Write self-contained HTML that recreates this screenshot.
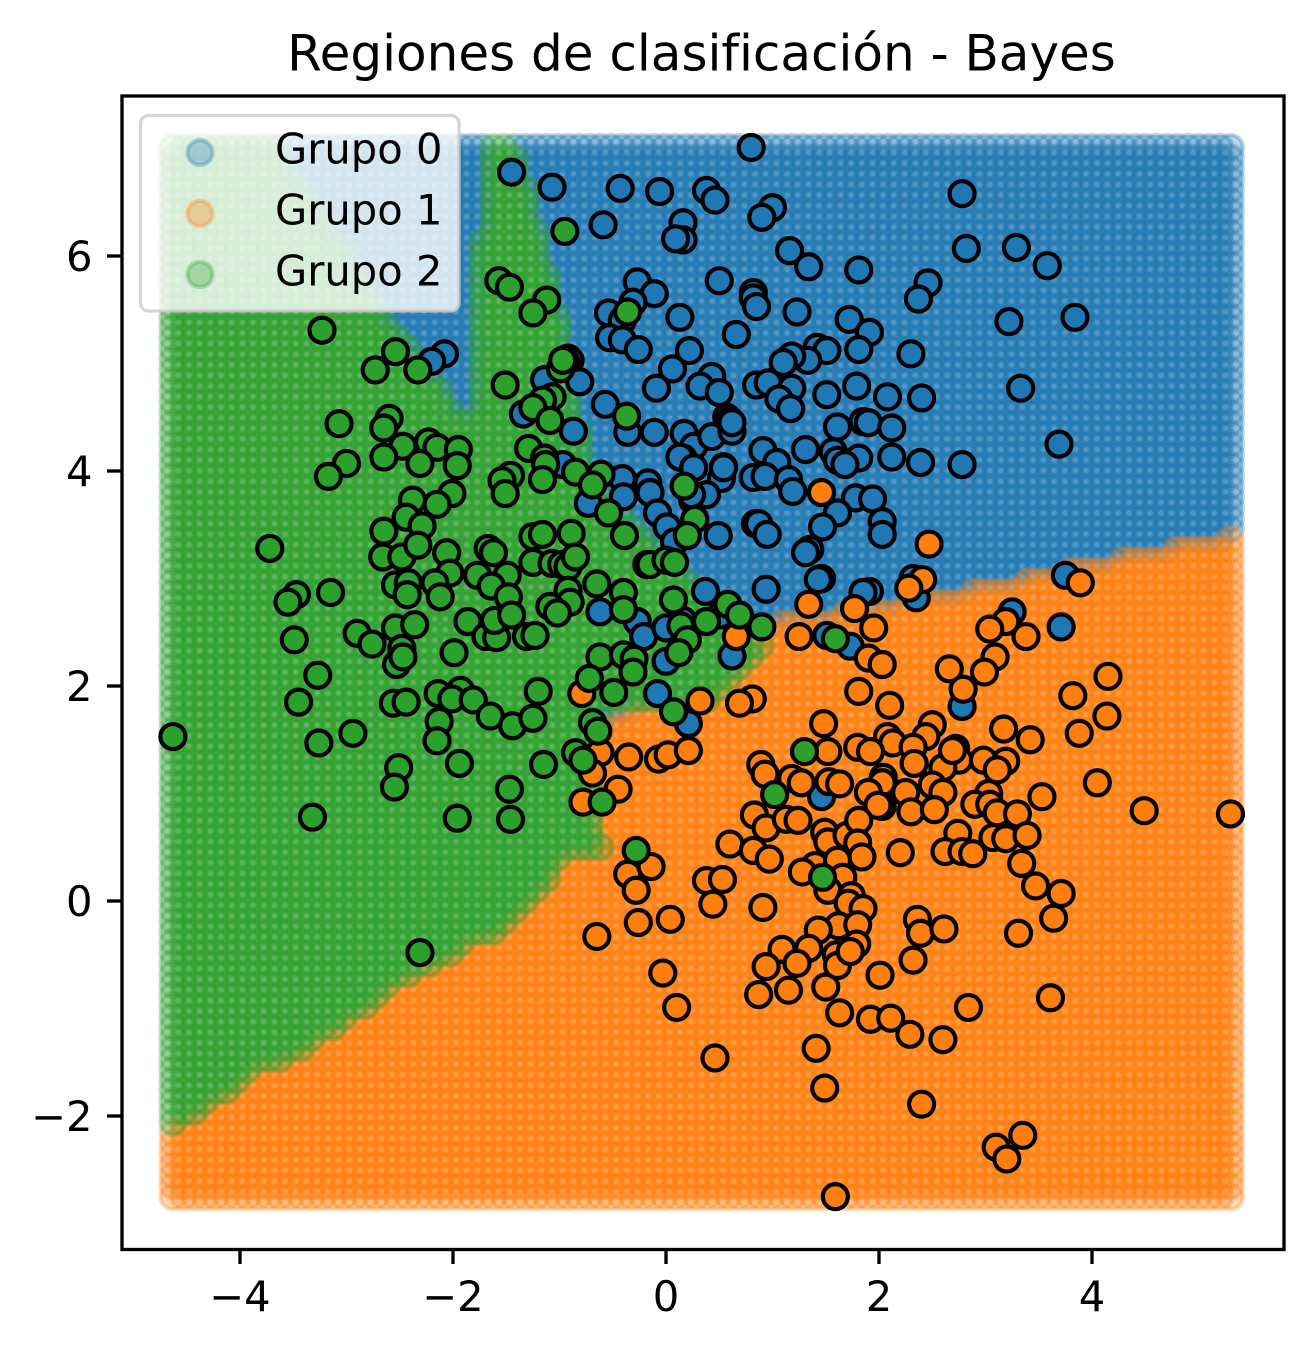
<!DOCTYPE html>
<html lang="es">
<head>
<meta charset="utf-8">
<title>Regiones de clasificación - Bayes</title>
<style>
html,body{margin:0;padding:0;background:#fff;width:1313px;height:1349px;overflow:hidden}
svg{display:block}
text{font-family:"DejaVu Sans","Liberation Sans",sans-serif;fill:#000}
</style>
</head>
<body>
<svg id="chart" xmlns="http://www.w3.org/2000/svg" width="1313" height="1349" viewBox="0 0 1313 1349">
  <rect x="0" y="0" width="1313" height="1349" fill="#fff"/>
  <g id="regions"></g>
  <g id="points"></g>
  <rect x="122" y="96" width="1162" height="1153.5" fill="none" stroke="#000" stroke-width="3.33"/>
  <g id="xaxis"></g>
  <g id="yaxis"></g>
  <text x="701.5" y="70.5" font-size="50" text-anchor="middle">Regiones de clasificación - Bayes</text>
  <g id="legend">
    <rect x="140.5" y="115.5" width="318.5" height="195.5" rx="8" ry="8" fill="#fff" fill-opacity="0.8" stroke="#ccc" stroke-opacity="0.8" stroke-width="3.33"/>
  </g>
</svg>
<script>
const xTicks = [-4, -2, 0, 2, 4];
const yTicks = [-2, 0, 2, 4, 6];
const groupNames = ['Grupo 0', 'Grupo 1', 'Grupo 2'];
const groupColors = ['#1f77b4', '#ff7f0e', '#2ca02c'];

const gridXRange = [-4.63, 5.30];
const gridYRange = [-2.75, 7.01];
const gridCount = 100;

const group2Boundary = [[-4.85,7.27],[-3.85,7.27],[-3.53,6.79],[-2.71,5.55],[-2.22,4.87],[-1.98,4.56],[-1.77,4.43],[-1.77,6.15],[-1.66,6.20],[-1.66,7.27],[-1.47,7.27],[-1.47,6.99],[-1.38,6.87],[-1.28,6.49],[-1.17,6.12],[-0.99,5.34],[-0.79,4.20],[-0.71,3.87],[0.16,3.05],[0.95,2.32],[0.67,2.15],[0.43,1.87],[-0.59,1.87],[-0.69,1.43],[-0.72,0.75],[-0.60,0.50],[-0.88,0.46],[-1.10,0.22],[-1.37,-0.08],[-1.58,-0.30],[-1.72,-0.30],[-2.10,-0.56],[-2.51,-0.74],[-2.80,-0.98],[-3.39,-1.37],[-3.86,-1.58],[-4.17,-1.80],[-4.39,-1.96],[-4.61,-2.08],[-4.85,-2.18]];
const group1Boundary = [[-4.85,-2.18],[0.32,2.33],[0.32,2.49],[1.07,2.49],[1.07,2.60],[1.63,2.60],[1.63,2.69],[2.24,2.69],[2.24,2.79],[2.83,2.79],[2.83,2.89],[3.34,2.89],[3.34,2.99],[3.74,2.99],[3.74,3.09],[4.27,3.09],[4.27,3.19],[4.74,3.19],[4.74,3.28],[5.25,3.28],[5.25,3.39],[5.48,3.39],[5.48,-2.97],[-4.85,-2.97]];

const group0Points = [[0.80,7.01],[-1.45,6.78],[-1.07,6.64],[-0.43,6.63],[-0.06,6.60],[0.38,6.61],[0.46,6.52],[1.00,6.45],[0.90,6.36],[-0.59,6.29],[0.16,6.31],[0.16,6.15],[0.09,6.16],[1.16,6.05],[1.34,5.90],[1.81,5.87],[-0.27,5.76],[-0.11,5.65],[0.50,5.77],[0.82,5.66],[0.82,5.61],[0.85,5.53],[1.23,5.48],[0.13,5.43],[-0.31,5.57],[-0.54,5.47],[-0.41,5.40],[-0.53,5.24],[-0.41,5.22],[-0.26,5.13],[1.72,5.41],[1.91,5.29],[1.81,5.13],[0.66,5.27],[0.22,5.12],[0.06,4.95],[1.42,5.15],[1.51,5.12],[1.33,5.03],[1.18,5.07],[1.10,5.01],[-0.92,5.05],[-0.90,5.03],[-0.94,5.01],[-0.81,4.83],[-1.14,4.85],[-0.09,4.77],[0.43,4.88],[0.32,4.79],[0.50,4.73],[0.85,4.80],[0.96,4.82],[1.18,4.77],[1.06,4.67],[1.17,4.58],[1.51,4.71],[1.79,4.79],[2.08,4.69],[-1.34,4.53],[-0.57,4.62],[-0.87,4.37],[-0.36,4.36],[-0.11,4.36],[0.17,4.35],[0.26,4.23],[0.43,4.32],[0.57,4.50],[0.60,4.47],[0.62,4.37],[0.62,4.45],[1.61,4.41],[1.85,4.46],[1.90,4.45],[2.12,4.40],[0.91,4.19],[1.04,4.08],[1.31,4.20],[1.57,4.18],[1.61,4.10],[1.81,4.12],[2.12,4.13],[0.54,4.04],[0.16,4.12],[2.78,6.58],[2.82,6.07],[3.29,6.08],[3.58,5.91],[2.46,5.75],[2.37,5.60],[3.22,5.39],[3.84,5.43],[2.30,5.09],[2.40,4.68],[3.33,4.77],[3.69,4.25],[2.39,4.08],[2.78,4.06],[0.13,4.13],[0.26,4.03],[0.52,3.93],[0.54,4.03],[1.68,4.06],[0.82,3.94],[0.93,3.95],[1.15,3.92],[1.19,3.81],[1.78,3.75],[1.94,3.74],[1.61,3.61],[1.47,3.48],[2.03,3.53],[2.03,3.41],[0.49,3.40],[0.84,3.51],[0.87,3.51],[0.95,3.41],[1.35,3.27],[1.31,3.24],[1.46,3.00],[1.43,2.99],[0.94,2.90],[1.91,2.88],[1.85,2.87],[2.35,2.82],[2.32,3.00],[0.37,2.88],[-0.17,3.89],[-0.15,3.80],[-0.41,3.93],[-0.40,3.76],[-0.73,3.70],[-0.97,4.06],[-0.08,3.61],[0.01,3.48],[0.08,3.34],[0.25,3.73],[0.38,3.78],[0.24,3.78],[-0.62,2.69],[-0.27,2.60],[-0.21,2.46],[0,2.54],[0.16,2.61],[0.62,2.28],[0,2.23],[-0.08,1.93],[0.21,1.65],[1.51,2.47],[1.73,2.37],[3.75,3.03],[3.25,2.69],[3.71,2.55],[2.78,1.81],[1.46,0.97],[-2.08,5.09],[-2.20,5.02],[0.51,2.66]];

const group1Points = [[1.46,3.80],[2.47,3.32],[2.41,2.99],[2.28,2.91],[1.34,2.76],[1.77,2.72],[1.95,2.54],[1.25,2.46],[0.66,2.46],[1.90,2.26],[2.03,2.20],[2.66,2.16],[1.81,1.95],[2.10,1.82],[0.32,1.86],[0.81,1.88],[0.69,1.84],[-0.79,1.93],[1.48,1.65],[3.89,2.96],[3.19,2.60],[3.04,2.53],[3.38,2.46],[3.09,2.27],[2.99,2.13],[2.79,1.97],[4.15,2.09],[3.82,1.91],[4.14,1.72],[3.88,1.56],[3.17,1.60],[3.42,1.50],[2.50,1.64],[2.44,1.53],[2.08,1.53],[2.13,1.47],[2.32,1.43],[2.33,1.28],[2.72,1.42],[2.75,1.31],[2.60,1.24],[2.98,1.31],[3.19,1.30],[3.11,1.22],[4.05,1.10],[2.04,1.15],[2.03,1.10],[2.25,1.01],[2.50,1.08],[2.60,1.01],[2.30,0.83],[2.52,0.85],[2.03,0.88],[3.03,1.00],[2.90,0.90],[3.04,0.90],[3.11,0.82],[3.30,0.81],[3.53,0.97],[4.49,0.84],[5.30,0.81],[2.74,0.63],[3.07,0.59],[3.19,0.58],[3.39,0.61],[2.62,0.46],[2.78,0.46],[2.88,0.44],[2.20,0.45],[3.34,0.35],[3.47,0.14],[3.71,0.07],[3.64,-0.16],[2.36,-0.17],[2.39,-0.30],[2.61,-0.26],[3.31,-0.30],[2.32,-0.55],[2.01,-0.69],[3.61,-0.90],[2.84,-0.99],[1.80,1.43],[1.92,1.39],[1.52,1.39],[-0.62,1.38],[-0.35,1.34],[-0.07,1.32],[0.02,1.36],[0.21,1.40],[-0.69,1.19],[-0.45,1.04],[-0.78,0.92],[0.89,1.27],[0.93,1.18],[1.18,1.14],[1.27,1.10],[1.53,1.11],[1.63,1.09],[1.90,1.01],[1.99,0.89],[2.69,1.40],[0.83,0.80],[0.94,0.68],[1.13,0.76],[1.24,0.75],[1.49,0.64],[1.52,0.55],[1.70,0.61],[1.81,0.75],[1.80,0.54],[1.84,0.41],[0.60,0.53],[0.82,0.47],[0.97,0.39],[1.40,0.33],[1.28,0.27],[1.61,0.38],[1.66,0.22],[1.52,0.10],[1.74,0.05],[1.71,-0.02],[1.85,-0.07],[-0.36,0.25],[-0.14,0.32],[-0.28,0.10],[0.38,0.19],[0.53,0.20],[0.44,-0.03],[0.91,-0.06],[-0.26,-0.20],[0.04,-0.17],[-0.65,-0.33],[-0.03,-0.67],[0.10,-0.99],[1.62,-0.23],[1.43,-0.27],[1.80,-0.22],[1.79,-0.40],[1.34,-0.44],[1.09,-0.45],[1.23,-0.58],[0.94,-0.61],[0.87,-0.87],[1.15,-0.83],[1.50,-0.80],[1.60,-0.50],[1.61,-0.60],[1.73,-0.47],[1.63,-1.04],[1.92,-1.10],[2.11,-1.09],[2.29,-1.24],[2.60,-1.29],[1.41,-1.37],[0.46,-1.46],[1.49,-1.74],[2.40,-1.89],[3.35,-2.18],[3.10,-2.29],[3.20,-2.40],[1.59,-2.75]];

const group2Points = [[-3.23,5.31],[-2.54,5.11],[-2.73,4.94],[-2.33,4.94],[-1.51,4.80],[-1.57,5.77],[-1.47,5.71],[-3.07,4.44],[-2.60,4.49],[-2.65,4.40],[-0.95,6.23],[-1.12,5.59],[-1.25,5.47],[-0.36,5.48],[-0.99,4.95],[-0.97,5.03],[-1.07,4.69],[-1.16,4.66],[-1.25,4.59],[-1.09,4.47],[-0.37,4.51],[-1.29,4.21],[-1.14,4.12],[-1.13,4.06],[-1.16,3.92],[-2.47,4.23],[-2.23,4.27],[-2.15,4.22],[-1.95,4.20],[-2.65,4.13],[-2.31,4.07],[-1.96,4.05],[-3.00,4.07],[-3.17,3.95],[-0.85,3.99],[-0.61,3.97],[-0.69,3.87],[-0.54,3.61],[-1.46,3.96],[-1.54,3.91],[-1.51,3.79],[-2.01,3.79],[-2.15,3.69],[-2.38,3.73],[-2.44,3.57],[-2.29,3.49],[-2.65,3.44],[-2.66,3.20],[-2.48,3.20],[-2.33,3.31],[-2.06,3.24],[-2.03,3.05],[-2.54,2.94],[-2.42,2.96],[-2.43,2.85],[-2.17,2.96],[-2.12,2.83],[-1.25,3.39],[-1.16,3.41],[-0.89,3.42],[-1.25,3.15],[-1.07,3.14],[-0.98,3.13],[-0.92,3.11],[-0.85,3.20],[-0.39,3.40],[-1.67,3.28],[-1.62,3.24],[-1.49,3.03],[-1.77,3.03],[-1.64,2.93],[-1.48,2.83],[-0.65,2.95],[-0.40,2.87],[-0.40,2.71],[-0.92,2.89],[-0.90,2.78],[-1.09,2.74],[-1.02,2.68],[-0.18,3.13],[-3.72,3.28],[-3.47,2.85],[-3.55,2.78],[-3.15,2.87],[-3.49,2.43],[-2.90,2.49],[-2.76,2.39],[-2.54,2.54],[-2.36,2.57],[-2.48,2.35],[-2.53,2.20],[-2.47,2.27],[-1.99,2.31],[-1.86,2.60],[-1.69,2.46],[-1.59,2.45],[-1.61,2.61],[-1.45,2.66],[-1.31,2.46],[-1.23,2.47],[-3.27,2.10],[-3.45,1.85],[-2.56,1.84],[-2.44,1.85],[-2.14,1.93],[-1.93,1.96],[-2.01,1.88],[-1.81,1.87],[-1.65,1.72],[-1.44,1.63],[-1.25,1.70],[-1.20,1.95],[-0.62,2.27],[-0.40,2.29],[-0.30,2.25],[-0.31,2.13],[-0.49,1.94],[-0.72,2.07],[-0.69,1.66],[-0.64,1.58],[-2.13,1.67],[-4.63,1.53],[-2.94,1.56],[-3.26,1.47],[-2.15,1.49],[-2.51,1.24],[-2.55,1.06],[-1.94,1.28],[-1.47,1.04],[-1.15,1.27],[-1.96,0.77],[-1.46,0.76],[-3.32,0.78],[-2.31,-0.48],[-0.85,1.38],[-0.78,1.31],[-0.60,0.92],[-0.28,0.47],[0.17,3.86],[0.27,3.55],[0.20,3.40],[-0.15,3.13],[0,3.17],[0.08,3.15],[0.07,2.80],[0.58,2.76],[0.69,2.66],[0.38,2.60],[0.90,2.55],[0.14,2.56],[0.20,2.43],[0.12,2.31],[0.07,1.76],[1.59,2.44],[1.30,1.39],[1.02,0.99],[1.47,0.22]];

const svgNS = 'http://www.w3.org/2000/svg';
const regionsLayer = document.getElementById('regions');
const pointsLayer = document.getElementById('points');
const xAxisLayer = document.getElementById('xaxis');
const yAxisLayer = document.getElementById('yaxis');
const legendLayer = document.getElementById('legend');

function sx(v) { return 666 + v * 106.5; }
function sy(v) { return 901 - v * 107.5; }

function inside(poly, x, y) {
  let hit = false;
  for (let i = 0, j = poly.length - 1; i < poly.length; j = i++) {
    const a = poly[i], b = poly[j];
    if ((a[1] > y) !== (b[1] > y) && x < (b[0] - a[0]) * (y - a[1]) / (b[1] - a[1]) + a[0]) hit = !hit;
  }
  return hit;
}

function classify(x, y) {
  if (inside(group2Boundary, x, y)) return 2;
  if (inside(group1Boundary, x, y)) return 1;
  return 0;
}

/* decision-region mesh: one translucent marker per mesh node, drawn group by group */
const regionGroups = groupColors.map(function (color, k) {
  const g = document.createElementNS(svgNS, 'g');
  
  
  g.setAttribute('fill', color);
  g.setAttribute('stroke', color);
  g.setAttribute('fill-opacity', '0.3');
  g.setAttribute('stroke-opacity', '0.3');
  g.setAttribute('stroke-width', '4.17');
  regionsLayer.appendChild(g);
  return g;
});
const meshHtml = ['', '', ''];
for (let j = 0; j < gridCount; j++) {
  const gy = gridYRange[0] + (gridYRange[1] - gridYRange[0]) * j / (gridCount - 1);
  for (let i = 0; i < gridCount; i++) {
    const gx = gridXRange[0] + (gridXRange[1] - gridXRange[0]) * i / (gridCount - 1);
    const k = classify(gx, gy);
    meshHtml[k] += 'M' + (sx(gx) - 12.5).toFixed(2) + ' ' + sy(gy).toFixed(2) + 'a12.5 12.5 0 1 0 25 0a12.5 12.5 0 1 0 -25 0z|';
  }
}
meshHtml.forEach(function (pathsText, k) {
  pathsText.split('|').forEach(function (d) {
    if (!d) return;
    const node = document.createElementNS(svgNS, 'path');
    node.setAttribute('d', d);
    regionGroups[k].appendChild(node);
  });
});

/* sample points */
function drawPoints(points, k) {
  const g = document.createElementNS(svgNS, 'g');
  
  
  g.setAttribute('fill', groupColors[k]);
  g.setAttribute('stroke', '#000');
  g.setAttribute('stroke-width', '4.17');
  points.forEach(function (p) {
    const c = document.createElementNS(svgNS, 'circle');
    c.setAttribute('cx', sx(p[0]));
    c.setAttribute('cy', sy(p[1]));
    c.setAttribute('r', 12.5);
    
    
    g.appendChild(c);
  });
  pointsLayer.appendChild(g);
}
drawPoints(group0Points, 0);
drawPoints(group1Points, 1);
drawPoints(group2Points, 2);

function tickText(v) { return v < 0 ? '\u2212' + Math.abs(v) : String(v); }

xTicks.forEach(function (v) {
  const line = document.createElementNS(svgNS, 'line');
  line.setAttribute('x1', sx(v));
  line.setAttribute('x2', sx(v));
  line.setAttribute('y1', 1249);
  line.setAttribute('y2', 1264);
  line.setAttribute('stroke', '#000');
  line.setAttribute('stroke-width', '3.33');
  
  
  xAxisLayer.appendChild(line);
  const t = document.createElementNS(svgNS, 'text');
  t.setAttribute('x', sx(v));
  t.setAttribute('y', 1311);
  t.setAttribute('font-size', '41.67');
  t.setAttribute('text-anchor', 'middle');
  
  
  t.textContent = tickText(v);
  xAxisLayer.appendChild(t);
});

yTicks.forEach(function (v) {
  const line = document.createElementNS(svgNS, 'line');
  line.setAttribute('x1', 107);
  line.setAttribute('x2', 122);
  line.setAttribute('y1', sy(v));
  line.setAttribute('y2', sy(v));
  line.setAttribute('stroke', '#000');
  line.setAttribute('stroke-width', '3.33');
  
  
  yAxisLayer.appendChild(line);
  const t = document.createElementNS(svgNS, 'text');
  t.setAttribute('x', 92.5);
  t.setAttribute('y', sy(v) + 15);
  t.setAttribute('font-size', '41.67');
  t.setAttribute('text-anchor', 'end');
  
  
  t.textContent = tickText(v);
  yAxisLayer.appendChild(t);
});

groupNames.forEach(function (name, k) {
  const row = 152.5 + k * 61;
  const m = document.createElementNS(svgNS, 'circle');
  m.setAttribute('cx', 200);
  m.setAttribute('cy', row);
  m.setAttribute('r', 12.5);
  m.setAttribute('fill', groupColors[k]);
  m.setAttribute('stroke', groupColors[k]);
  m.setAttribute('fill-opacity', '0.3');
  m.setAttribute('stroke-opacity', '0.3');
  m.setAttribute('stroke-width', '4.17');
  
  
  legendLayer.appendChild(m);
  const t = document.createElementNS(svgNS, 'text');
  t.setAttribute('x', 275);
  t.setAttribute('y', row + 11);
  t.setAttribute('font-size', '41.67');
  
  
  t.textContent = name;
  legendLayer.appendChild(t);
});
</script>
</body>
</html>
